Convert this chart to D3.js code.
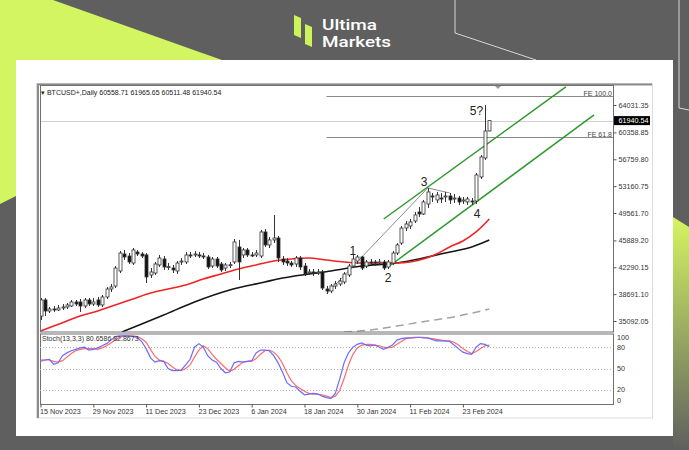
<!DOCTYPE html>
<html>
<head>
<meta charset="utf-8">
<script src="https://cdn.jsdelivr.net/npm/d3@7"></script>
<style>
  body { margin: 0; background: #5f5f5f; }
  svg { display: block; }
  text { font-family: "Liberation Sans", Arial, sans-serif; }
</style>
</head>
<body>
<svg id="chart" width="689" height="450"></svg>
<script>
// ---- data ----
const title = "BTCUSD+,Daily  60558.71 61965.65 60511.48 61940.54";
const stochTitle = "Stoch(13,3,3) 80.6586 82.8673";
const lastPrice = 61940.54;

const dateLabels = ["15 Nov 2023", "29 Nov 2023", "11 Dec 2023", "23 Dec 2023", "6 Jan 2024",
  "18 Jan 2024", "30 Jan 2024", "11 Feb 2024", "23 Feb 2024"];
const dateBars = [0, 12, 24, 36, 48, 60, 72, 84, 96];

const priceTicks = [64031.35, 60358.85, 56759.80, 53160.75, 49561.70, 45889.20, 42290.15, 38691.10, 35092.05];
const stochTicks = [100, 80, 50, 20, 0];
const stochLevels = [80, 50, 20];

const opens = [35760,37910,36430,36700,36570,36830,36970,37100,37640,37640,
  37100,37910,37370,37910,37240,38310,39380,39780,41790,44070,
  43800,42860,44340,44070,43940,41260,41520,42600,43400,42330,
  42190,41790,43000,43000,43940,43940,43940,43800,43670,42460,
  43400,42730,42190,42600,43000,45010,43940,44610,43940,43940,
  43800,47020,45280,45950,46210,43400,43130,42860,42730,43530,
  42460,41520,41660,41520,41660,39380,39110,39780,40050,40320,
  41260,42460,43130,43670,42460,43000,43000,42860,43000,42330,
  42860,44200,45540,47550,47820,48490,49700,49430,50770,51840,
  51310,51570,51710,51840,51440,51570,51170,51040,51170,51170,
  54390,56930,60558.71];
const closes = [37910,36430,36700,36570,36830,36970,37240,37640,37370,37100,
  37910,37370,37640,37240,38310,39380,39650,42190,44200,43670,
  43000,44610,44070,43800,40990,41660,42730,43530,42330,42380,
  41930,42860,43130,43940,43900,44070,43800,43670,42330,43400,
  42460,41930,42600,42640,45680,43000,44610,43940,43900,44200,
  47020,45280,45950,46210,43530,43000,42860,42600,43530,42330,
  41390,41660,41520,41660,39510,39110,39780,40050,40450,41390,
  42460,43400,43670,42190,43000,42960,42860,43000,42190,43000,
  44200,45280,47550,48090,48360,49300,49430,51040,52380,51710,
  51980,51530,51840,51310,51570,51040,51310,51440,51040,54660,
  57070,60550,61940.54];
const highs = [38170,38170,36970,37100,37240,37370,37500,37910,37910,38040,
  38170,38170,38170,38310,38580,39650,40050,42460,44470,44610,
  44200,44870,44610,44340,44200,42190,43000,43940,43800,42860,
  42600,43130,43530,44340,44340,44470,44340,44200,43940,43670,
  43670,43000,42860,43000,46080,45950,44870,44870,44340,44610,
  47290,47420,46350,49300,46480,43800,43530,43130,43800,43800,
  42860,42060,42060,42060,41930,39780,40050,40450,40850,41660,
  42730,44070,43940,43800,43270,43400,43270,43400,43270,43270,
  44470,45540,47820,48490,48760,49700,50370,51310,52910,52240,
  52380,52240,52380,52240,52110,51840,51710,51710,51570,54920,
  57340,64040,61965.65];
const lows = [35230,35760,36160,36300,36430,36570,36700,36970,37100,36300,
  36830,37100,37100,36970,36970,38040,38980,39510,41520,43270,
  42730,42600,43800,43530,40180,40850,41260,42330,41930,41930,
  41520,41390,42600,42730,43530,43670,43530,43400,42060,42190,
  42190,41660,41790,42190,42730,40590,43530,43670,43670,43670,
  43530,45010,44870,45540,43000,42600,42460,42330,42330,41930,
  41120,41260,41120,41260,39250,38710,38840,39380,39780,40050,
  40990,42190,42730,41930,42190,42600,42460,42600,41930,42060,
  42600,43940,45280,47150,47420,48220,49030,49300,50240,51040,
  50900,50900,51040,50770,50900,50640,50770,50640,50640,50770,
  54120,56670,60511.48];

// moving averages, [bar, price]
const maRed = [[0,33752],[3,34422],[6,35092],[9,35762],[13,36432],[17,37236],[21,38040],[25,38844],
  [29,39380],[33,39916],[37,40720],[41,41390],[45,42060],[49,42596],[53,43132],[57,43400],[61,43534],
  [65,43266],[69,42998],[73,42864],[77,42864],[81,42864],[84,42998],[87,43400],[90,44070],[93,45008],
  [96,45812],[99,47018],[102,48760]];
const maBlack = [[18.5,33618],[23,34690],[28,35896],[35,37638],[43,39246],[51,40318],[55,40854],[61,41390],
  [66,41792],[73,42462],[81,42864],[86,43400],[92,44204],[98,45008],[102,45946]];
const maGray = [[69,33618],[75,33886],[81,34422],[88,35092],[95,35762],[102,36700]];

// stochastic %K (blue) and %D (red)
const stochMain = [62,62,63,56,58,68,72,75,77,79,80,76,77,79,82,85,90,95,96,96,
  96,95,94,88,78,65,59,61,60,50,47,47,48,55,63,80,85,80,68,62,
  59,50,44,45,58,60,59,60,61,72,76,76,75,68,58,45,30,25,24,18,
  13,14,15,14,11,9,8,15,35,58,72,80,84,86,83,82,83,80,77,80,
  83,90,92,93,93,94,94,93,93,91,89,89,89,88,83,78,73,71,70,80,
  85,84,80.66];
const stochSignal = [60,62,62,60,59,61,66,71,75,77,78,78,78,77,79,82,86,90,94,96,
  96,96,95,92,87,77,67,62,60,57,52,48,47,50,55,66,76,82,78,70,
  63,57,51,46,49,54,59,60,60,64,70,75,76,73,67,57,44,33,26,22,
  18,15,14,14,13,11,9,11,19,36,55,70,79,83,84,84,83,82,80,79,
  80,84,88,92,93,93,94,94,93,92,91,90,89,89,87,83,78,74,71,74,
  78,82,82.87];

// drawn objects
const channelUpper = [[78,48760],[119.4,66448]];
const channelLower = [[79,42328],[125.8,62696]];
const waveLine = [[65,38710],[88,52910],[93,52240]];
const waveLabels = [["1",71,43870],["2",79,40318],["3",87.2,53182],["4",99.2,48894],["5?",99.1,62696]];
const feLevels = [["FE 100.0",65242],["FE 61.8",59748]];
const feStartBar = 65;

// ---- drawing ----
const svg = d3.select("#chart");
const defs = svg.append("defs");

// page background
svg.append("rect").attr("width", 689).attr("height", 450).attr("fill", "#5f5f5f");
svg.append("polygon").attr("points", "0,0 53,0 250,70 16,196 0,204").attr("fill", "#d4f562");
const grad = defs.append("linearGradient").attr("id", "rg").attr("x1", 0).attr("y1", 0).attr("x2", 0).attr("y2", 1);
grad.append("stop").attr("offset", "0%").attr("stop-color", "#d4f562");
grad.append("stop").attr("offset", "100%").attr("stop-color", "#5f5f5f");
svg.append("polygon").attr("points", "673,217 689,227 689,450 673,450").attr("fill", "url(#rg)");
svg.append("polyline").attr("points", "455,0 455,33 536,60").attr("fill", "none")
  .attr("stroke", "#d8d8d8").attr("stroke-width", 1);
svg.append("polyline").attr("points", "679,0 679,108 689,110").attr("fill", "none")
  .attr("stroke", "#d8d8d8").attr("stroke-width", 1);

// logo
svg.append("polygon").attr("points", "294,15 301,18 301,38 294,35").attr("fill", "#cdf35a");
svg.append("polygon").attr("points", "305,24 312,27 312,47 305,44").attr("fill", "#cdf35a");
svg.append("text").attr("x", 322).attr("y", 29.5).text("Ultima")
  .attr("textLength", 55).attr("lengthAdjust", "spacingAndGlyphs")
  .style("font-family", "Roboto, sans-serif").attr("font-size", 15).attr("font-weight", 500).attr("fill", "#fff");
svg.append("text").attr("x", 322).attr("y", 47).text("Markets")
  .attr("textLength", 69).attr("lengthAdjust", "spacingAndGlyphs")
  .style("font-family", "Roboto, sans-serif").attr("font-size", 15).attr("font-weight", 500).attr("fill", "#fff");

// white card
svg.append("rect").attr("x", 16).attr("y", 60).attr("width", 657).attr("height", 376).attr("fill", "#fff");

// terminal frame
svg.append("rect").attr("x", 36.5).attr("y", 83.5).attr("width", 616).attr("height", 334.5)
  .attr("fill", "none").attr("stroke", "#dcdcdc");
svg.append("polyline").attr("points", "38,418 38,84.5 652,84.5").attr("fill", "none")
  .attr("stroke", "#8c8c8c").attr("stroke-width", 2);

// scales
const n = closes.length;
const x = d3.scaleLinear().domain([0, 102]).range([40.5, 489.3]);
const y = d3.scaleLinear().domain([35092.05, 64031.35]).range([321, 105]);
const ys = d3.scaleLinear().domain([0, 100]).range([404, 333]);

const plot = { l: 40, r: 613, t: 85.5, b: 332 };
const sp = { t: 334, b: 404.5 };

defs.append("clipPath").attr("id", "clipMain").append("rect")
  .attr("x", plot.l).attr("y", plot.t).attr("width", plot.r - plot.l).attr("height", plot.b - plot.t);
defs.append("clipPath").attr("id", "clipStoch").append("rect")
  .attr("x", plot.l).attr("y", sp.t).attr("width", plot.r - plot.l).attr("height", sp.b - sp.t);

const main = svg.append("g").attr("clip-path", "url(#clipMain)");

// current price line
main.append("line").attr("x1", plot.l).attr("x2", plot.r)
  .attr("y1", Math.round(y(lastPrice)) + 0.5).attr("y2", Math.round(y(lastPrice)) + 0.5)
  .attr("stroke", "#d0d0d0");

// FE levels
feLevels.forEach(([label, p]) => {
  const yy = Math.round(y(p)) + 0.5;
  main.append("line").attr("x1", x(feStartBar)).attr("x2", plot.r).attr("y1", yy).attr("y2", yy)
    .attr("stroke", "#8a8a8a");
  main.append("text").attr("x", plot.r - 1).attr("y", yy - 0.5).attr("text-anchor", "end")
    .attr("font-size", 7).attr("fill", "#444").text(label);
});

const curve = d3.line().x(d => x(d[0])).y(d => y(d[1])).curve(d3.curveMonotoneX);
const straight = d3.line().x(d => x(d[0])).y(d => y(d[1]));

main.append("path").attr("d", curve(maGray)).attr("fill", "none")
  .attr("stroke", "#a3a3a3").attr("stroke-width", 1.5).attr("stroke-dasharray", "8,5");
main.append("path").attr("d", curve(maBlack)).attr("fill", "none")
  .attr("stroke", "#151515").attr("stroke-width", 1.6);
main.append("path").attr("d", curve(maRed)).attr("fill", "none")
  .attr("stroke", "#f02424").attr("stroke-width", 1.6);

// wave line and channel
main.append("path").attr("d", straight(waveLine)).attr("fill", "none")
  .attr("stroke", "#8c8c8c").attr("stroke-width", 1);
[channelUpper, channelLower].forEach(c => {
  main.append("path").attr("d", straight(c)).attr("fill", "none")
    .attr("stroke", "#2e9a2e").attr("stroke-width", 1.5);
});

// candles
const bars = d3.range(n).map(i => ({ i, o: opens[i], h: highs[i], l: lows[i], c: closes[i] }));
main.selectAll("line.wick").data(bars).join("line").attr("class", "wick")
  .attr("x1", d => Math.round(x(d.i)) + 0.5).attr("x2", d => Math.round(x(d.i)) + 0.5)
  .attr("y1", d => y(d.h)).attr("y2", d => y(d.l))
  .attr("stroke", "#333").attr("stroke-width", 1);
main.selectAll("rect.body").data(bars).join("rect").attr("class", "body")
  .attr("x", d => Math.round(x(d.i)) - 1)
  .attr("width", 3)
  .attr("y", d => y(Math.max(d.o, d.c)))
  .attr("height", d => Math.max(1, Math.abs(y(d.o) - y(d.c))))
  .attr("fill", d => d.c >= d.o ? "#fff" : "#111")
  .attr("stroke", "#333").attr("stroke-width", 0.8);

// wave labels
main.selectAll("text.wave").data(waveLabels).join("text").attr("class", "wave")
  .attr("x", d => x(d[1])).attr("y", d => y(d[2])).attr("text-anchor", "middle")
  .attr("font-size", 12).attr("fill", "#222").text(d => d[0]);

// shift marker
svg.append("path").attr("d", "M495,86 L501,86 L498,89 Z").attr("fill", "#999");

// title
svg.append("text").attr("x", 41).attr("y", 95).attr("font-size", 7).attr("fill", "#222")
  .text("\u25BE " + title);

// panel borders
svg.append("rect").attr("x", plot.l + 0.5).attr("y", plot.t).attr("width", plot.r - plot.l).attr("height", plot.b - plot.t)
  .attr("fill", "none").attr("stroke", "#707070");
svg.append("rect").attr("x", plot.l + 0.5).attr("y", sp.t).attr("width", plot.r - plot.l).attr("height", sp.b - sp.t)
  .attr("fill", "none").attr("stroke", "#707070");

// price axis
const yAxis = svg.append("g").attr("transform", `translate(${plot.r + 0.5},0)`)
  .call(d3.axisRight(y).tickValues(priceTicks).tickFormat(d3.format(".2f")).tickSize(3).tickPadding(2));
yAxis.select(".domain").remove();
yAxis.selectAll("line").attr("stroke", "#555");
yAxis.selectAll("text").attr("font-size", 7.2).attr("fill", "#333").style("font-family", "'Liberation Sans', Arial, sans-serif");

// last price tag
const ly = y(lastPrice);
svg.append("rect").attr("x", 614).attr("y", ly - 4.5).attr("width", 36).attr("height", 9).attr("fill", "#000");
svg.append("text").attr("x", 618.5).attr("y", ly + 2.6).attr("font-size", 7.2).attr("fill", "#fff")
  .text(lastPrice.toFixed(2));

// stochastic panel
const st = svg.append("g").attr("clip-path", "url(#clipStoch)");
stochLevels.forEach(v => {
  st.append("line").attr("x1", plot.l).attr("x2", plot.r)
    .attr("y1", Math.round(ys(v)) + 0.5).attr("y2", Math.round(ys(v)) + 0.5)
    .attr("stroke", "#b5b5b5").attr("stroke-dasharray", "1,2");
});
const sLine = d3.line().x((d, i) => x(i)).y(d => ys(d));
st.append("path").attr("d", sLine(stochSignal)).attr("fill", "none")
  .attr("stroke", "#ff6a6a").attr("stroke-width", 1.2);
st.append("path").attr("d", sLine(stochMain)).attr("fill", "none")
  .attr("stroke", "#6b6bff").attr("stroke-width", 1.2);
svg.append("text").attr("x", 42).attr("y", 341).attr("font-size", 7).attr("fill", "#333").text(stochTitle);

svg.selectAll("text.stick").data(stochTicks).join("text").attr("class", "stick")
  .attr("x", 617).attr("y", d => Math.min(400.5, Math.max(337.5, ys(d))) + 2.5)
  .attr("font-size", 7.2).attr("fill", "#333").text(d => d);

// time axis
const xAxis = svg.append("g").attr("transform", `translate(0,${sp.b})`)
  .call(d3.axisBottom(x).tickValues(dateBars).tickFormat((d, i) => dateLabels[i]).tickSize(3).tickPadding(1));
xAxis.select(".domain").remove();
xAxis.selectAll("line").attr("stroke", "#555");
xAxis.selectAll("text").attr("text-anchor", "start").attr("dx", -1).attr("font-size", 7.2).attr("fill", "#333")
  .style("font-family", "'Liberation Sans', Arial, sans-serif");
</script>
</body>
</html>
